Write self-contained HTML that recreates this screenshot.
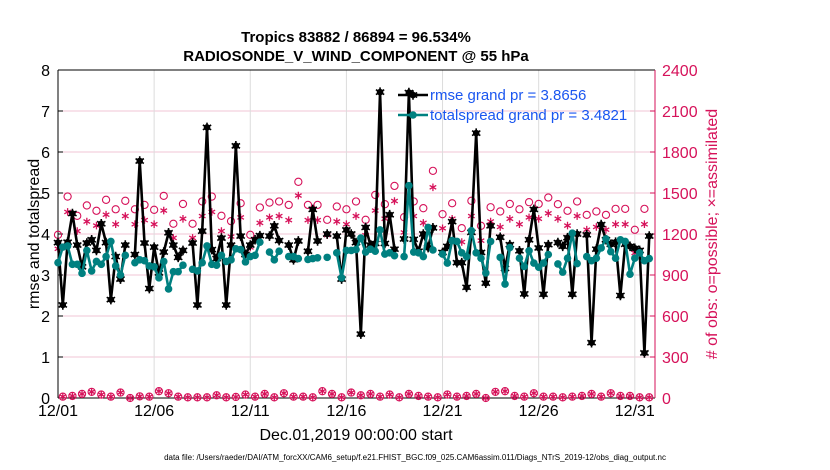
<!DOCTYPE html>
<html><head><meta charset="utf-8">
<style>
body{margin:0;background:#fff;}
svg{display:block;font-family:"Liberation Sans",sans-serif;}
</style></head>
<body>
<svg id="chart" width="830" height="470" viewBox="0 0 830 470" xmlns="http://www.w3.org/2000/svg">
<rect width="830" height="470" fill="#fff"/>
<text x="356" y="42" text-anchor="middle" font-size="15" font-weight="bold">Tropics 83882 / 86894 = 96.534%</text>
<text x="356" y="61" text-anchor="middle" font-size="15" font-weight="bold">RADIOSONDE_V_WIND_COMPONENT @ 55 hPa</text>
<g id="grid"></g>
<g id="axes"></g>
<g id="marks"></g>
<text transform="translate(39,234) rotate(-90)" text-anchor="middle" font-size="16">rmse and totalspread</text>
<text transform="translate(717,234) rotate(-90)" text-anchor="middle" font-size="16" fill="#d6125a"># of obs: o=possible; ×=assimilated</text>
<text x="356" y="440" text-anchor="middle" font-size="16">Dec.01,2019 00:00:00 start</text>
<text x="415" y="460" text-anchor="middle" font-size="8">data file: /Users/raeder/DAI/ATM_forcXX/CAM6_setup/f.e21.FHIST_BGC.f09_025.CAM6assim.011/Diags_NTrS_2019-12/obs_diag_output.nc</text>
<g id="legend"></g>
</svg>
<script>
const xTickLabels=["12/01","12/06","12/11","12/16","12/21","12/26","12/31"];
const xTickDays=[0,5,10,15,20,25,30];
const yTicks=[0,1,2,3,4,5,6,7,8];
const y2Ticks=[0,300,600,900,1200,1500,1800,2100,2400];
const rmse=[3.79,2.27,3.8,4.5,3.73,3.2,3.78,3.86,3.6,4.25,3.79,2.4,3.45,2.9,3.73,null,3.5,5.78,3.78,2.67,3.68,3.05,3.56,4.03,3.73,3.43,3.6,null,3.78,2.27,4.07,6.6,3.62,3.4,3.9,2.27,3.73,6.15,3.95,3.5,3.73,3.86,3.96,null,3.95,4.2,3.84,null,3.73,3.37,3.83,null,3.58,4.6,3.83,null,4.0,null,3.95,2.9,4.1,4.0,3.79,1.56,4.16,3.73,3.77,7.46,3.77,4.47,3.63,null,3.88,7.45,3.87,3.58,4.0,3.67,4.15,null,3.55,3.7,4.3,3.3,3.3,2.7,4.04,6.46,3.55,2.8,4.2,null,3.92,3.16,3.74,null,3.59,2.54,3.86,4.6,3.66,2.53,3.74,null,3.79,3.7,3.91,2.53,4.0,null,3.98,1.35,3.63,4.23,3.86,3.75,3.8,2.5,3.75,3.7,3.65,3.6,1.1,3.95];
const spread=[3.3,3.68,3.71,3.26,3.26,3.04,3.6,3.1,3.33,3.26,3.45,3.82,3.22,3.0,3.48,null,3.3,3.37,3.35,3.22,3.2,2.93,3.33,2.66,3.08,3.08,3.24,null,3.14,3.1,3.3,3.71,3.26,3.24,3.48,3.33,3.37,3.64,3.62,3.32,3.45,3.48,3.8,null,3.56,3.37,3.58,null,3.45,3.45,3.4,null,3.38,3.4,3.42,null,3.43,null,3.54,2.93,3.6,3.6,3.62,3.9,3.56,3.63,3.58,4.1,3.51,3.54,3.47,null,3.45,5.18,3.56,3.54,3.45,4.16,3.61,null,3.51,3.29,3.84,3.82,3.54,3.45,4.08,3.54,3.41,3.05,3.82,null,3.43,2.78,3.67,null,3.41,3.21,3.59,3.29,3.19,3.29,3.5,null,3.27,3.07,3.41,4.02,3.28,null,3.45,3.35,3.41,3.66,3.88,3.57,3.41,3.86,3.82,3.02,3.41,3.54,3.35,3.4];
const possibleMain=[1194,1474,1333,1409,1370,1450,1381,1443,1381,1413,1377,1479,1275,1420,1275,1438,1474,1333,1294,1425,1194,1394,1430,1438,1413,1582,1413,1413,1304,1401,1381,1438,1304,1486,1418,1552,1323,1438,1389,1662,1345,1425,1243,1443,1260,1396,1365,1420,1381,1433,1420,1467,1418,1370,1438,1340,1365,1340,1384,1384,1231,1384];
const assimMain=[1150,1420,1280,1350,1320,1400,1330,1390,1330,1360,1330,1430,1230,1370,1230,1390,1420,1280,1240,1380,1160,1340,1380,1390,1360,1540,1360,1360,1250,1350,1330,1390,1250,1430,1370,1500,1270,1390,1340,1600,1300,1370,1200,1390,1210,1350,1310,1370,1330,1380,1370,1410,1370,1320,1390,1290,1310,1290,1330,1330,1120,1330];
const possibleOff=[10,15,30,45,25,10,40,0,12,10,50,35,10,5,5,5,20,5,8,25,10,30,5,35,10,10,5,50,30,5,40,20,30,10,25,5,30,15,10,5,25,10,15,30,0,45,50,15,10,35,10,10,5,10,15,30,10,35,15,15,5,5];
const assimOff=[10,15,30,45,25,10,40,0,12,10,50,35,10,5,5,5,20,5,8,25,10,30,5,35,10,10,5,50,30,5,40,20,30,10,25,5,30,15,10,5,25,10,15,30,0,45,50,15,10,35,10,10,5,10,15,30,10,35,15,15,5,5];

const NS="http://www.w3.org/2000/svg";
const L=58,R=655,T=70,B=398,DMAX=31.05;
const MAG="#d6125a",TEAL="#008080";
function xS(d){return L+(d/DMAX)*(R-L);}
function yS(v){return B-(v/8)*(B-T);}
function y2S(c){return B-(c/2400)*(B-T);}
function mk(tag,attrs,parent){const e=document.createElementNS(NS,tag);for(const k in attrs)e.setAttribute(k,attrs[k]);parent.appendChild(e);return e;}
const grid=document.getElementById('grid'),axes=document.getElementById('axes'),marks=document.getElementById('marks'),legend=document.getElementById('legend');

yTicks.forEach(v=>{
  const g=mk('line',{x1:L,x2:R,y1:yS(v),y2:yS(v),stroke:'#f2c6d6','stroke-width':1},grid);
  
  
  const t=mk('text',{x:L-8,y:yS(v)+6,'text-anchor':'end','font-size':16},axes);
  t.textContent=v;
  
  
  mk('line',{x1:L,x2:L+5,y1:yS(v),y2:yS(v),stroke:'#000'},axes);
});
xTickDays.forEach((d,i)=>{
  const g=mk('line',{x1:xS(d),x2:xS(d),y1:T,y2:B,stroke:'#dcdcdc','stroke-width':1},grid);
  
  
  const t=mk('text',{x:xS(d),y:B+18,'text-anchor':'middle','font-size':16},axes);
  t.textContent=xTickLabels[i];
  
  
});
y2Ticks.forEach(c=>{
  const t=mk('text',{x:R+7,y:y2S(c)+6,'font-size':16,fill:MAG},axes);
  t.textContent=c;
  
  
  mk('line',{x1:R-5,x2:R,y1:y2S(c),y2:y2S(c),stroke:MAG},axes);
});
mk('line',{x1:L,x2:R,y1:T,y2:T,stroke:'#000'},axes);
mk('line',{x1:L,x2:R,y1:B,y2:B,stroke:'#000'},axes);
mk('line',{x1:L,x2:L,y1:T,y2:B,stroke:'#000'},axes);
mk('line',{x1:R,x2:R,y1:T,y2:B,stroke:MAG},axes);

function star(cx,cy,r,color,parent,w){
  let d='';
  for(let k=0;k<3;k++){const a=Math.PI/2+k*Math.PI/3;d+=`M${cx-r*Math.cos(a)},${cy-r*Math.sin(a)}L${cx+r*Math.cos(a)},${cy+r*Math.sin(a)}`;}
  return mk('path',{d:d,stroke:color,'stroke-width':w||1.3,fill:'none'},parent);
}
function drawObs(arr,offset,kind){
  arr.forEach((c,j)=>{
    const i=j*2+offset, cx=xS(i*0.25), cy=y2S(c);
    let e;
    if(kind==='possible') e=mk('circle',{cx:cx,cy:cy,r:3.6,fill:'none',stroke:MAG,'stroke-width':1.1},marks);
    else e=star(cx,cy+(offset===0?8:0),3.8,MAG,marks);
    
    
  });
}
drawObs(possibleMain,0,'possible');
drawObs(assimMain,0,'assim');
drawObs(possibleOff,1,'possible');
drawObs(assimOff,1,'assim');

function series(vals,color,name,isStar){
  let d='',pen=false;
  vals.forEach((v,i)=>{if(v===null){pen=false;return;}d+=(pen?'L':'M')+xS(i*0.25)+','+yS(v);pen=true;});
  const p=mk('path',{d:d,stroke:color,'stroke-width':2.6,fill:'none','stroke-linejoin':'round'},marks);
  
  
  vals.forEach((v,i)=>{
    if(v===null)return;
    const c=mk('circle',{cx:xS(i*0.25),cy:yS(v),r:isStar?3.3:3.8,fill:color},marks);
    
    
    if(isStar)star(xS(i*0.25),yS(v),4.8,color,marks,1.6);
  });
}
series(rmse,'#000','rmse',true);
series(spread,TEAL,'totalspread',false);

[[95,'#000','rmse grand pr = 3.8656',true],[115,TEAL,'totalspread grand pr = 3.4821',false]].forEach(([y,col,label,st])=>{
  const l=mk('line',{x1:398,x2:428,y1:y,y2:y,stroke:col,'stroke-width':2.6},legend);
  
  
  mk('circle',{cx:413,cy:y,r:st?3.3:3.8,fill:col},legend);
  if(st)star(413,y,4.8,col,legend,1.6);
  const t=mk('text',{x:430,y:y+5,'font-size':15,fill:'#1a56f0'},legend);
  t.textContent=label;
  
  
});
</script>
</body></html>
